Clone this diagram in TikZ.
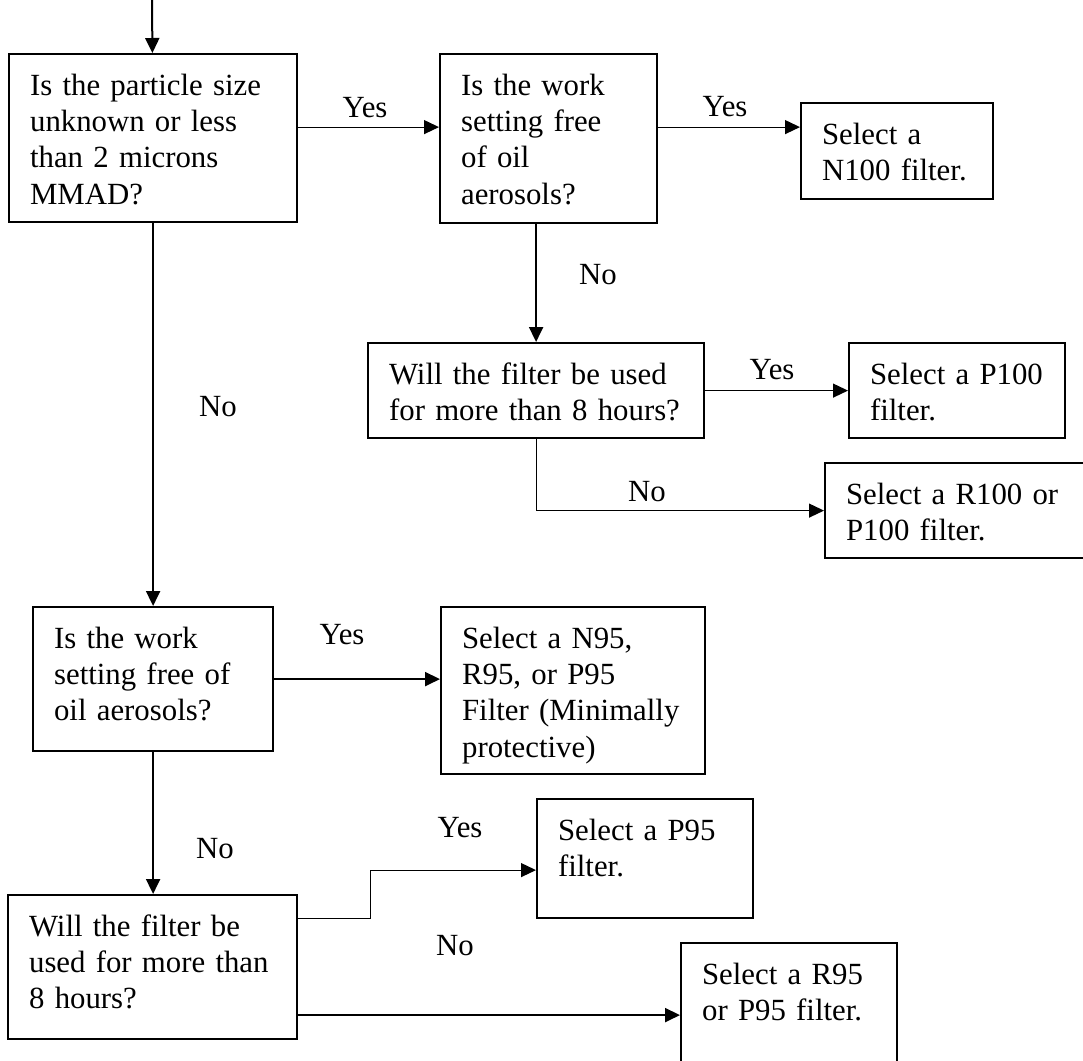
\documentclass[tikz,border=0pt]{standalone}
\usepackage{fontspec}
\setmainfont{Liberation Serif}
\usetikzlibrary{arrows.meta}
\hyphenpenalty=10000
\exhyphenpenalty=10000

\begin{document}
\begin{tikzpicture}[
        x=0.5pt, y=-0.5pt,
        font=\fontsize{15.4}{18.2}\selectfont,
        box/.style={draw, line width=1.1pt, anchor=north west, align=left, inner xsep=10.5pt, inner ysep=9.5pt, text height=11pt},
        lbl/.style={inner sep=0pt},
        arr/.style={-{Triangle[length=7.5pt, width=7pt]}, line width=1pt},
        arrthin/.style={arr, line width=0.6pt}
    ]
    \useasboundingbox (0,0) rectangle (1083,1061);

    \node[box, text width=123pt, text depth=54pt] (size) at (8,53) {Is the particle size\\unknown or less\\than 2 microns\\MMAD?};
    \node[box, text width=87.5pt, text depth=54.5pt] (oil1) at (439,53) {Is the work\\setting free\\of oil\\aerosols?};
    \node[box, text width=75pt, text depth=18pt] (n100) at (800,102) {Select a\\N100~filter.};
    \node[box, text width=147pt, text depth=17.5pt] (hours1) at (367,342) {Will the filter be used\\for~more~than~8~hours?};
    \node[box, text width=87pt, text depth=17.5pt] (p100) at (848,342) {Select~a~P100\\filter.};
    \node[box, text width=116pt, text depth=17.5pt] (r100) at (824,462) {Select~a~R100~or\\P100 filter.};
    \node[box, text width=99pt, text depth=42pt] (oil2) at (32,606) {Is the work\\setting free of\\oil aerosols?};
    \node[box, text width=111pt, text depth=53.5pt] (n95) at (440,606) {Select a N95,\\R95, or P95\\Filter~(Minimally\\protective)};
    \node[box, text width=87pt, text depth=29.5pt] (p95) at (536,798) {Select a P95\\filter.};
    \node[box, text width=123.5pt, text depth=42pt] (hours2) at (7,894) {Will the filter be\\used for more than\\8 hours?};
    \node[box, text width=87pt, text depth=29.5pt] (r95) at (680,942) {Select a R95\\or P95 filter.};

    \node[lbl] (yes1) at (365,108) {Yes};
    \node[lbl] (yes2) at (725,107) {Yes};
    \node[lbl] (no1) at (598,275) {No};
    \node[lbl] (yes3) at (772,370) {Yes};
    \node[lbl] (no2) at (647,492) {No};
    \node[lbl] (no3) at (218,407) {No};
    \node[lbl] (yes4) at (342,635) {Yes};
    \node[lbl] (no4) at (215,849) {No};
    \node[lbl] (yes5) at (460,828) {Yes};
    \node[lbl] (no5) at (455,946) {No};

    \coordinate (start) at (152,0);
    \draw[arr] (start) -- (size);
    \draw[arrthin] ([yshift=5.5pt]size.east) -- ([yshift=5.5pt]size.east -| oil1.west);
    \draw[arrthin] ([yshift=5.75pt]oil1.east) -- ([yshift=5.75pt]oil1.east -| n100.west);
    \draw[arr] (oil1.south -| hours1.north) -- (hours1.north);
    \draw[arrthin] (hours1) -- (p100);
    \draw[arrthin] (hours1.south) |- (r100.west);
    \draw[arr] (size) -- (oil2);
    \draw[arr] (oil2.east) -- (oil2.east -| n95.west);
    \draw[arr] (oil2.south) -- (oil2.south |- hours2.north);
    \draw[arrthin] ([yshift=24.5pt]hours2.east) -- ++(72,0) |- ([yshift=-5.75pt]p95.west);
    \draw[arr] ([yshift=-24pt]hours2.east) -- ([yshift=-24pt]hours2.east -| r95.west);

\end{tikzpicture}
\end{document}
